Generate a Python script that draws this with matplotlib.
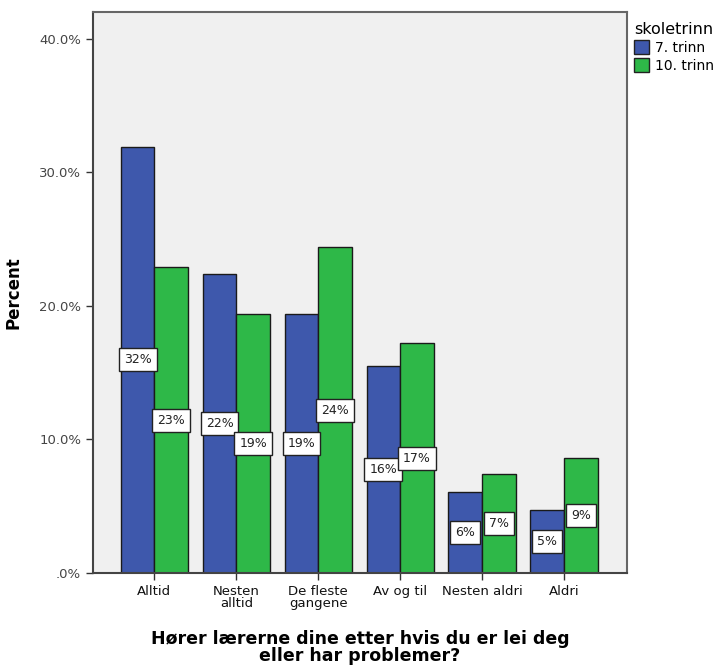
import matplotlib
matplotlib.use("Agg")
import matplotlib.pyplot as plt
import numpy as np
from matplotlib.patches import Patch
from matplotlib.ticker import FuncFormatter

categories = ["Alltid", "Nesten\nalltid", "De fleste\ngangene", "Av og til", "Nesten aldri", "Aldri"]
grade7 = [31.9, 22.4, 19.4, 15.5, 6.1, 4.7]
grade10 = [22.9, 19.4, 24.4, 17.2, 7.4, 8.6]
series_names = ["7. trinn", "10. trinn"]
legend_title = "skoletrinn"
y_ticks = [0, 10, 20, 30, 40]

blue = "#3E58AC"
green = "#2EB848"

fig = plt.figure(figsize=(7.24, 6.69), dpi=100)
ax = fig.add_axes([93/724, 96/669, (627-93)/724, (573-12)/669])
ax.set_facecolor("#F0F0F0")

x = np.arange(len(categories))
w = 0.41
b1 = ax.bar(x - w/2, grade7, w, color=blue, edgecolor="#1a1a1a", linewidth=1.0)
b2 = ax.bar(x + w/2, grade10, w, color=green, edgecolor="#1a1a1a", linewidth=1.0)

for bars, vals in ((b1, grade7), (b2, grade10)):
    for rect, v in zip(bars, vals):
        ax.text(rect.get_x() + rect.get_width()/2, v/2, f"{v:.0f}%",
                ha="center", va="center", fontsize=9, color="#222222",
                bbox=dict(boxstyle="square,pad=0.4", fc="white", ec="#222222", lw=1.0))

ax.set_xlim(-0.75, 5.77)
ax.set_ylim(0, 42)
ax.set_yticks(y_ticks)
ax.yaxis.set_major_formatter(FuncFormatter(lambda v, p: ".0%" if v == 0 else f"{v:.1f}%"))
ax.set_xticks(x)
ax.set_xticklabels(categories, fontsize=9.5, color="#111111", linespacing=0.95)
ax.tick_params(axis="y", labelsize=9.5, labelcolor="#444444", length=5, width=1, color="#333333")
ax.tick_params(axis="x", length=5, width=1, color="#333333")

for s in ax.spines.values():
    s.set_color("#666666")
    s.set_linewidth(1.5)
ax.spines["left"].set_color("#444444")
ax.spines["bottom"].set_color("#444444")

ax.set_ylabel("Percent", fontsize=12, fontweight="bold", labelpad=12)
ax.set_xlabel("Hører lærerne dine etter hvis du er lei deg\neller har problemer?",
              fontsize=12.5, fontweight="bold", linespacing=0.95, labelpad=14)

handles = [Patch(facecolor=blue, edgecolor="#222222", label=series_names[0]),
           Patch(facecolor=green, edgecolor="#222222", label=series_names[1])]
leg = fig.legend(handles=handles, title=legend_title, loc="upper left",
                 bbox_to_anchor=(634/724, 1 - 22/669), frameon=False, fontsize=10,
                 title_fontsize=11.5, handlelength=1.1, handleheight=1.1,
                 handletextpad=0.4, borderaxespad=0, labelspacing=0.25,
                 borderpad=0.0)
leg._legend_box.align = "left"

fig.savefig("out.png", dpi=100)
